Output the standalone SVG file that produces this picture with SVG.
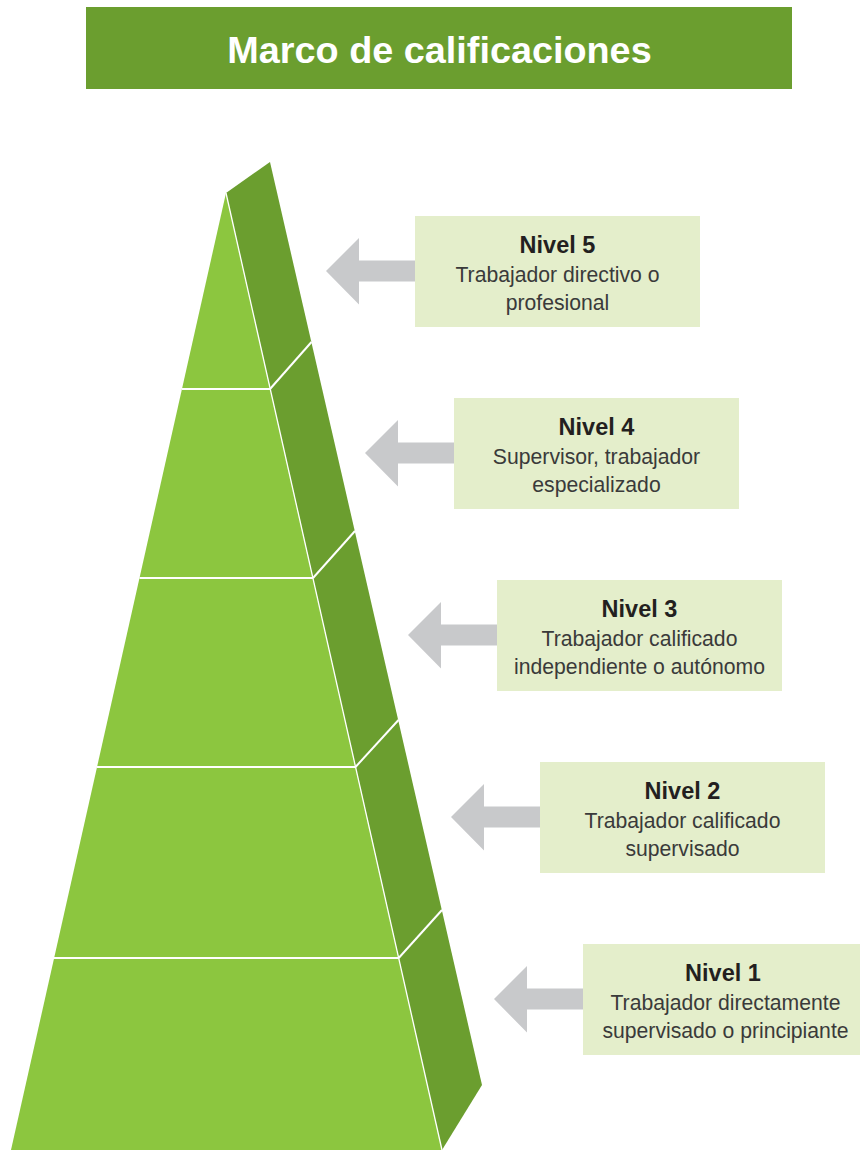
<svg xmlns="http://www.w3.org/2000/svg" width="860" height="1151" viewBox="0 0 860 1151">
  <style>
    .front { fill: #8cc63f; }
    .side { fill: #6b9e2f; }
    .div { stroke: #ffffff; stroke-width: 2; fill: none; }
    .edge { stroke: #ffffff; stroke-width: 1.3; fill: none; }
    .box { fill: #e4eecb; }
    .arrow { fill: #c8c9cb; }
    .lvl { font-family: "Liberation Sans", Arial, sans-serif; font-weight: bold; font-size: 23.5px; fill: #231f20; text-anchor: middle; }
    .desc { font-family: "Liberation Sans", Arial, sans-serif; font-size: 21.2px; fill: #3a3a3a; text-anchor: middle; }
    .title { font-family: "Liberation Sans", Arial, sans-serif; font-weight: bold; font-size: 37.8px; fill: #ffffff; text-anchor: middle; }
  </style>
  <rect width="860" height="1151" fill="#ffffff"/>

  <g id="title">
    <rect x="86" y="7" width="706" height="82" fill="#6b9e2f"/>
    <text class="title" x="439.5" y="63">Marco de calificaciones</text>
  </g>

  <g id="pyramid">
    <polygon class="side" points="226,193 270,162 482,1085 442,1150"/>
    <polygon class="front" points="226,193 442,1150 11,1150"/>
    <line class="edge" x1="226" y1="193" x2="442" y2="1150"/>
    <line class="div" x1="182" y1="389" x2="270" y2="389"/>
    <line class="div" x1="270" y1="389" x2="311.5" y2="342"/>
    <line class="div" x1="139.5" y1="578" x2="313" y2="578"/>
    <line class="div" x1="313" y1="578" x2="355" y2="531"/>
    <line class="div" x1="97" y1="767" x2="355.5" y2="767"/>
    <line class="div" x1="355.5" y1="767" x2="398.5" y2="720"/>
    <line class="div" x1="54" y1="958" x2="398.7" y2="958"/>
    <line class="div" x1="398.7" y1="958" x2="442" y2="910"/>
  </g>

  <g id="connectors">
    <polygon class="arrow" points="326,271 359,238 359,260.5 415,260.5 415,281.5 359,281.5 359,304.5"/>
    <polygon class="arrow" points="365,453 398,420 398,442.5 454,442.5 454,463.5 398,463.5 398,486.5"/>
    <polygon class="arrow" points="408,635 441,602 441,624.5 497,624.5 497,645.5 441,645.5 441,668.5"/>
    <polygon class="arrow" points="451,817 484,784 484,806.5 540,806.5 540,827.5 484,827.5 484,850.5"/>
    <polygon class="arrow" points="494,999 527,966 527,988.5 583,988.5 583,1009.5 527,1009.5 527,1032.5"/>
  </g>

  <g id="nivel5">
    <rect class="box" x="415" y="216" width="285" height="111"/>
    <text class="lvl" x="557.5" y="253">Nivel 5</text>
    <text class="desc" x="557.5" y="281.5">Trabajador directivo o</text>
    <text class="desc" x="557.5" y="310">profesional</text>
  </g>

  <g id="nivel4">
    <rect class="box" x="454" y="398" width="285" height="111"/>
    <text class="lvl" x="596.5" y="435">Nivel 4</text>
    <text class="desc" x="596.5" y="463.5">Supervisor, trabajador</text>
    <text class="desc" x="596.5" y="492">especializado</text>
  </g>

  <g id="nivel3">
    <rect class="box" x="497" y="580" width="285" height="111"/>
    <text class="lvl" x="639.5" y="617">Nivel 3</text>
    <text class="desc" x="639.5" y="645.5">Trabajador calificado</text>
    <text class="desc" x="639.5" y="674">independiente o autónomo</text>
  </g>

  <g id="nivel2">
    <rect class="box" x="540" y="762" width="285" height="111"/>
    <text class="lvl" x="682.5" y="799">Nivel 2</text>
    <text class="desc" x="682.5" y="827.5">Trabajador calificado</text>
    <text class="desc" x="682.5" y="856">supervisado</text>
  </g>

  <g id="nivel1">
    <rect class="box" x="583" y="944" width="277" height="111"/>
    <text class="lvl" x="723" y="981">Nivel 1</text>
    <text class="desc" x="725.5" y="1009.5">Trabajador directamente</text>
    <text class="desc" x="725.5" y="1038">supervisado o principiante</text>
  </g>
</svg>
